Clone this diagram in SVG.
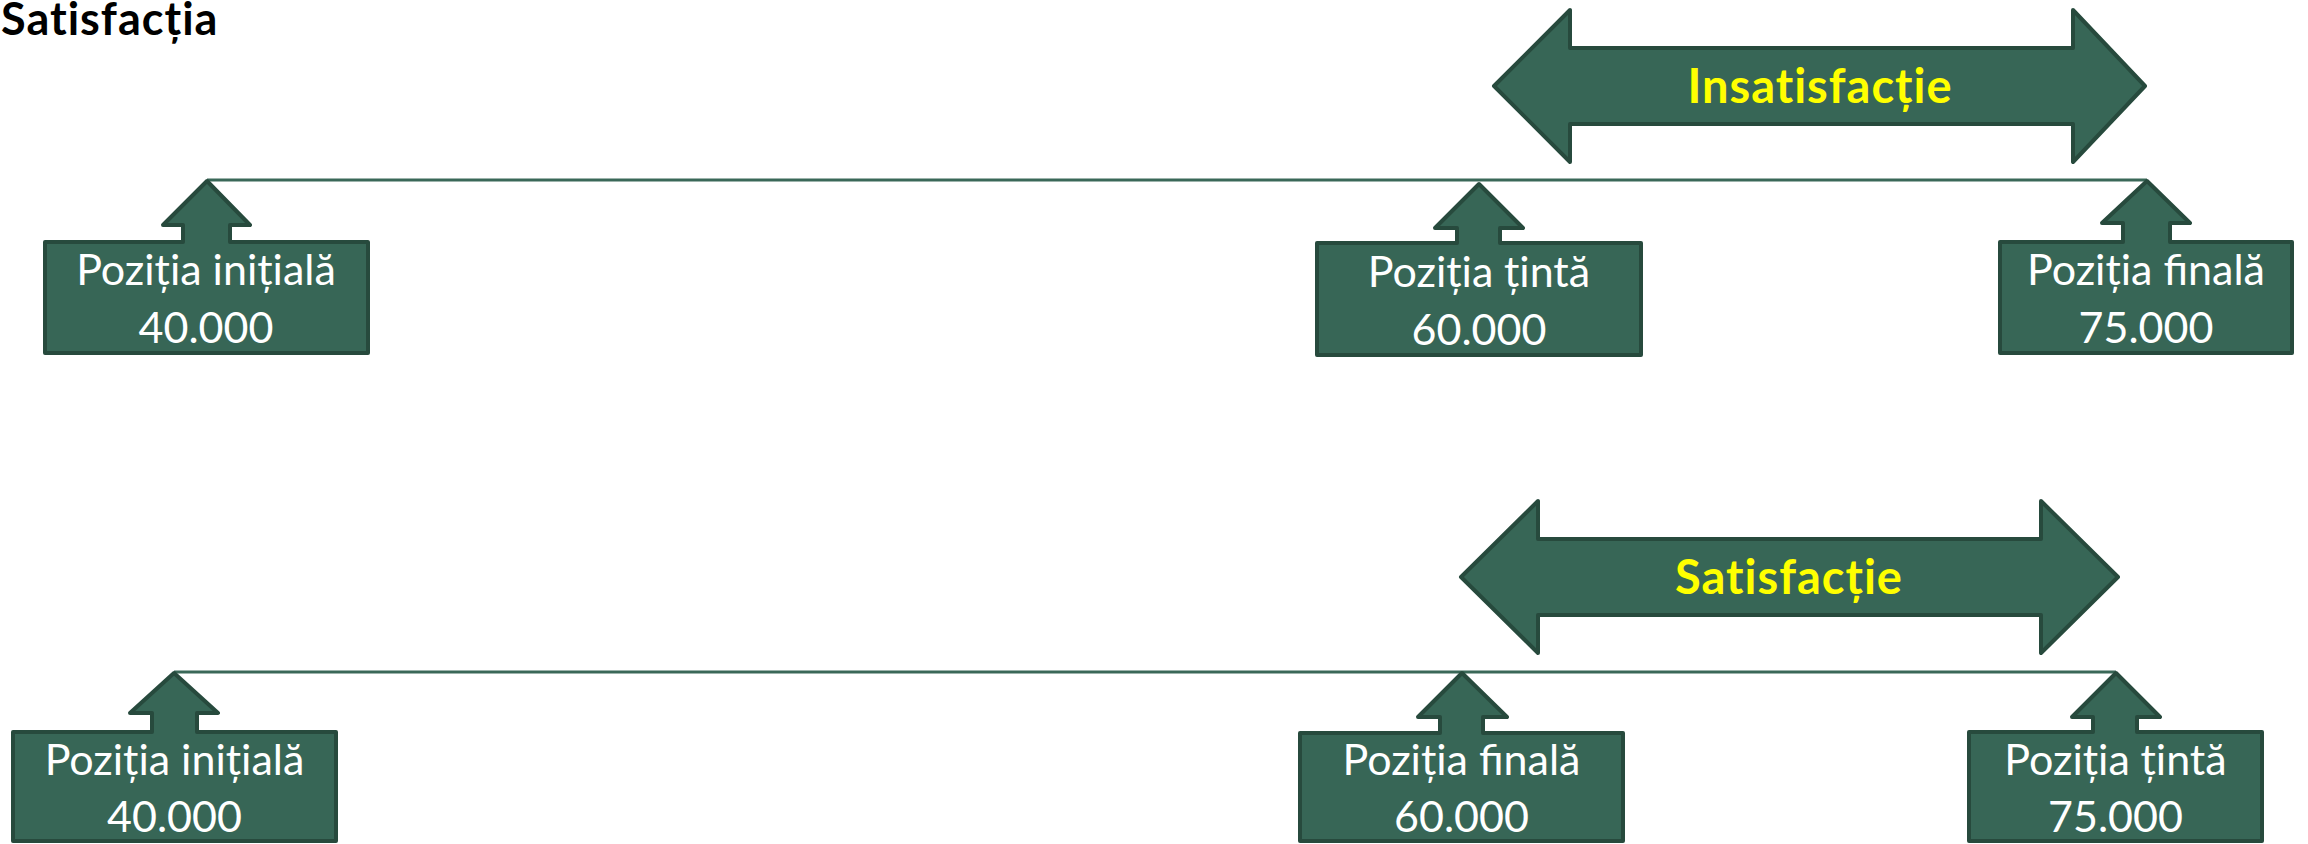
<svg xmlns="http://www.w3.org/2000/svg" width="2308" height="844" viewBox="0 0 2308 844">
<style>
.shape{fill:#376656;stroke:#274a3d;stroke-width:4;stroke-linejoin:round}
.conn{stroke:#3a6858;stroke-width:3;fill:none}
.lbl{font-family:Lato,"Open Sans","Liberation Sans",sans-serif;font-size:43px;fill:#ffffff;text-anchor:middle}
.big{font-family:Lato,"Open Sans","Liberation Sans",sans-serif;font-size:47px;font-weight:bold;fill:#ffff00;text-anchor:middle;letter-spacing:1px}
.title{font-family:Lato,"Open Sans","Liberation Sans",sans-serif;font-size:45px;font-weight:bold;fill:#000000;letter-spacing:1px}
</style>
<rect width="2308" height="844" fill="#ffffff"/>
<text class="title" x="1" y="35">Satisfacția</text>
<g id="connectors">
<line class="conn" x1="207" y1="180" x2="2147" y2="180"/>
<line class="conn" x1="174" y1="672" x2="2116" y2="672"/>
</g>
<g id="arrow-insatisfactie">
<path class="shape" d="M1494,86 L1570,10 L1570,48 L2073,48 L2073,10 L2145,86 L2073,162 L2073,124 L1570,124 L1570,162 Z"/>
<text class="big" x="1820" y="103">Insatisfacție</text>
</g>
<g id="arrow-satisfactie">
<path class="shape" d="M1461,577 L1538,501 L1538,539 L2041,539 L2041,501 L2118,577 L2041,653 L2041,615 L1538,615 L1538,653 Z"/>
<text class="big" x="1789" y="594">Satisfacție</text>
</g>
<g id="top-initial">
<path class="shape" d="M207,181 L250,225 L230,225 L230,242 L368,242 L368,353 L45,353 L45,242 L183,242 L183,225 L163,225 Z"/>
<text class="lbl" x="206" y="285">Poziția inițială</text>
<text class="lbl" x="206" y="343">40.000</text>
</g>
<g id="top-tinta">
<path class="shape" d="M1479,184 L1523,228 L1500,228 L1500,243 L1641,243 L1641,355 L1317,355 L1317,243 L1457,243 L1457,228 L1435,228 Z"/>
<text class="lbl" x="1479" y="287">Poziția țintă</text>
<text class="lbl" x="1479" y="345">60.000</text>
</g>
<g id="top-finala">
<path class="shape" d="M2147,181 L2190,223 L2170,223 L2170,242 L2292,242 L2292,353 L2000,353 L2000,242 L2123,242 L2123,223 L2102,223 Z"/>
<text class="lbl" x="2146" y="285">Poziția finală</text>
<text class="lbl" x="2146" y="343">75.000</text>
</g>
<g id="bottom-initial">
<path class="shape" d="M174,673 L218,713 L197,713 L197,732 L336,732 L336,841 L13,841 L13,732 L152,732 L152,713 L130,713 Z"/>
<text class="lbl" x="174.5" y="775">Poziția inițială</text>
<text class="lbl" x="174.5" y="832">40.000</text>
</g>
<g id="bottom-finala">
<path class="shape" d="M1462,673 L1507,717 L1483,717 L1483,733 L1623,733 L1623,841 L1300,841 L1300,733 L1440,733 L1440,717 L1418,717 Z"/>
<text class="lbl" x="1461.5" y="775">Poziția finală</text>
<text class="lbl" x="1461.5" y="832">60.000</text>
</g>
<g id="bottom-tinta">
<path class="shape" d="M2116,673 L2160,717 L2137,717 L2137,732 L2262,732 L2262,841 L1969,841 L1969,732 L2093,732 L2093,717 L2072,717 Z"/>
<text class="lbl" x="2115.5" y="775">Poziția țintă</text>
<text class="lbl" x="2115.5" y="832">75.000</text>
</g>
</svg>
